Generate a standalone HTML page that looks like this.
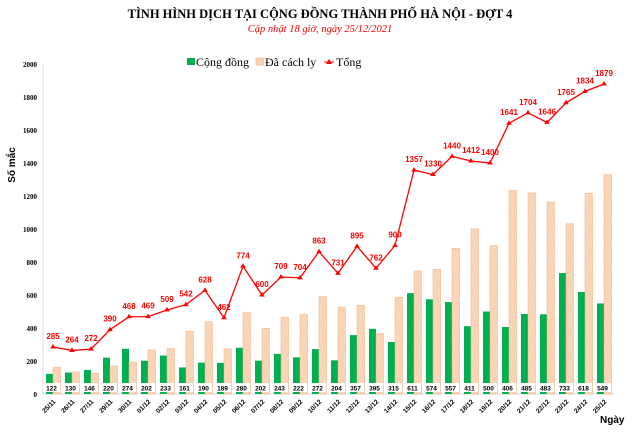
<!DOCTYPE html>
<html><head><meta charset="utf-8"><style>
body{margin:0;background:#fff;}
svg{display:block;}
</style></head><body>
<svg width="640" height="435" xmlns="http://www.w3.org/2000/svg">
<defs>
<pattern id="hatch" width="3" height="3" patternUnits="userSpaceOnUse">
<rect width="3" height="3" fill="#fbdcc0"/><path d="M0 3L3 0" stroke="#f4b183" stroke-width="0.5"/>
</pattern>
</defs>
<text x="320" y="18" text-anchor="middle" font-family="Liberation Serif, serif" font-weight="bold" font-size="12.5">TÌNH HÌNH DỊCH TẠI CỘNG ĐỒNG THÀNH PHỐ HÀ NỘI - ĐỢT 4</text>
<text x="320" y="32" text-anchor="middle" font-family="Liberation Serif, serif" font-style="italic" font-size="10.5" fill="#ff0000">Cập nhật 18 giờ, ngày 25/12/2021</text>
<g font-family="Liberation Serif, serif" font-size="12">
<rect x="187" y="58" width="8" height="7" fill="#00b050"/><text x="196" y="66">Cộng đồng</text>
<rect x="256" y="58" width="8" height="7" fill="url(#hatch)" stroke="#f4b183" stroke-width="0.6"/><text x="265" y="66">Đã cách ly</text>
<line x1="324" y1="62" x2="334" y2="62" stroke="#ff0000"/><path d="M329 59l3 5h-6z" fill="#ff0000"/><text x="336" y="66">Tổng</text>
</g>
<line x1="43" y1="64" x2="43" y2="394" stroke="#d9d9d9"/>
<line x1="43" y1="394" x2="614" y2="394" stroke="#d9d9d9"/>
<text transform="translate(15,165) rotate(-90)" text-anchor="middle" font-family="Liberation Sans, sans-serif" font-weight="bold" font-size="10">Số mắc</text>
<text x="600" y="423" font-family="Liberation Sans, sans-serif" font-weight="bold" font-size="10">Ngày</text>
<g id="g"></g>
</svg>
<script>
const categories=["25/11","26/11","27/11","29/11","30/11","01/12","02/12","03/12","04/12","05/12","06/12","07/12","08/12","09/12","10/12","11/12","12/12","13/12","14/12","15/12","16/12","17/12","18/12","19/12","20/12","21/12","22/12","23/12","24/12","25/12"];
const community=[122,130,146,220,274,202,233,161,190,189,280,202,243,222,272,204,357,395,315,611,574,557,411,500,406,485,483,733,618,549];
const totals=[285,264,272,390,468,469,509,542,628,462,774,600,709,704,863,731,895,762,900,1357,1330,1440,1412,1400,1641,1704,1646,1765,1834,1879];
const isolated=totals.map((t,i)=>t-community[i]);
const yTicks=[0,200,400,600,800,1000,1200,1400,1600,1800,2000];
const NS="http://www.w3.org/2000/svg";
const g=document.getElementById('g');
const x0=43.5,band=19,y0=394,yMax=2000,ph=330;
const xc=i=>x0+band*(i+0.5);
const y=v=>y0-v/yMax*ph;
function mk(t,a,p){const e=document.createElementNS(NS,t);for(const k in a)e.setAttribute(k,a[k]);(p||g).appendChild(e);return e;}
yTicks.forEach(v=>{const t=mk('text',{x:37,y:y(v)+3,'text-anchor':'end','font-family':'Liberation Serif, serif','font-weight':'bold','font-size':7});t.textContent=v;

});
categories.forEach((c,i)=>{
const cx=xc(i);
const gb=mk('rect',{x:cx-7,y:y(community[i]),width:7,height:y0-y(community[i]),fill:'#00b050'});


const ob=mk('rect',{x:cx,y:y(isolated[i]),width:7.5,height:y0-y(isolated[i]),fill:'url(#hatch)',stroke:'#f4b183','stroke-width':0.5});


const lb=mk('rect',{x:cx-10,y:383,width:17,height:9,fill:'#fff'});


const lt=mk('text',{x:cx-1.5,y:390.5,'text-anchor':'middle','font-family':'Liberation Sans, sans-serif','font-weight':'bold','font-size':6.5});lt.textContent=community[i];


const xl=mk('text',{transform:`translate(${cx+3},${402}) rotate(-45)`,'text-anchor':'end','font-family':'Liberation Sans, sans-serif','font-weight':'bold','font-size':6.5});xl.textContent=c;


});
const pl=mk('polyline',{points:totals.map((v,i)=>xc(i)+','+y(v)).join(' '),fill:'none',stroke:'#ff0000','stroke-width':1.3});


totals.forEach((v,i)=>{
const m=mk('path',{d:`M${xc(i)} ${y(v)-3}l2.8 4.5h-5.6z`,fill:'#ff0000'});


const t=mk('text',{x:xc(i),y:y(v)-8,'text-anchor':'middle','font-family':'Liberation Sans, sans-serif','font-weight':'bold','font-size':8,fill:'#ff0000'});t.textContent=v;


});
</script>
</body></html>
